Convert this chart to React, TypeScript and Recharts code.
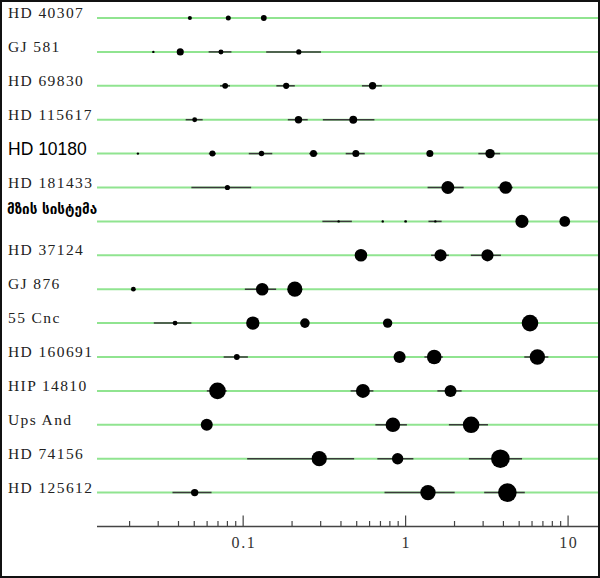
import React from 'react';
import { ScatterChart, Scatter, XAxis, YAxis, ReferenceLine } from 'recharts';

// Systems (top to bottom)
const SYSTEM_NAMES = [
  'HD 40307', 'GJ 581', 'HD 69830', 'HD 115617', 'HD 10180', 'HD 181433',
  'მზის სისტემა', 'HD 37124', 'GJ 876', '55 Cnc', 'HD 160691', 'HIP 14810',
  'Ups And', 'HD 74156', 'HD 125612',
];

// planets: a = semi-major axis (AU), e = eccentricity, m = mass (Earth masses)
const hd40307 = [
  { a: 0.047, e: 0.0, m: 3.5 },
  { a: 0.081, e: 0.0, m: 5.5 },
  { a: 0.134, e: 0.0, m: 8 },
];
const gj581 = [
  { a: 0.028, e: 0.0, m: 1.3 },
  { a: 0.041, e: 0.0, m: 15.6 },
  { a: 0.073, e: 0.16, m: 5.4 },
  { a: 0.22, e: 0.37, m: 6 },
];
const hd69830 = [
  { a: 0.0775, e: 0.07, m: 8 },
  { a: 0.184, e: 0.13, m: 10 },
  { a: 0.626, e: 0.14, m: 18 },
];
const hd115617 = [
  { a: 0.0503, e: 0.12, m: 5.1 },
  { a: 0.219, e: 0.14, m: 18.2 },
  { a: 0.476, e: 0.35, m: 22.9 },
];
const hd10180 = [
  { a: 0.0225, e: 0.0, m: 1.35 },
  { a: 0.0647, e: 0.05, m: 9 },
  { a: 0.1297, e: 0.165, m: 7 },
  { a: 0.271, e: 0.06, m: 15 },
  { a: 0.494, e: 0.134, m: 15 },
  { a: 1.41, e: 0.03, m: 15 },
  { a: 3.31, e: 0.153, m: 50 },
];
const hd181433 = [
  { a: 0.08, e: 0.4, m: 6 },
  { a: 1.82, e: 0.25, m: 300 },
  { a: 4.13, e: 0.106, m: 260 },
];
const solarSystem = [
  { a: 0.387, e: 0.206, m: 0.055 },
  { a: 0.723, e: 0.007, m: 0.815 },
  { a: 1.0, e: 0.017, m: 1 },
  { a: 1.524, e: 0.093, m: 0.107 },
  { a: 5.2, e: 0.049, m: 318 },
  { a: 9.54, e: 0.056, m: 95 },
];
const hd37124 = [
  { a: 0.531, e: 0.05, m: 240 },
  { a: 1.64, e: 0.125, m: 200 },
  { a: 3.19, e: 0.21, m: 200 },
];
const gj876 = [
  { a: 0.0211, e: 0.0, m: 5 },
  { a: 0.131, e: 0.218, m: 240 },
  { a: 0.208, e: 0.03, m: 900 },
];
const cnc55 = [
  { a: 0.0381, e: 0.26, m: 5 },
  { a: 0.1147, e: 0.01, m: 370 },
  { a: 0.24, e: 0.05, m: 54 },
  { a: 0.775, e: 0.0, m: 50 },
  { a: 5.83, e: 0.03, m: 1800 },
];
const hd160691 = [
  { a: 0.0914, e: 0.17, m: 8 },
  { a: 0.918, e: 0.07, m: 190 },
  { a: 1.5, e: 0.13, m: 670 },
  { a: 6.47, e: 0.169, m: 1000 },
];
const hip14810 = [
  { a: 0.0695, e: 0.14, m: 1820 },
  { a: 0.546, e: 0.16, m: 500 },
  { a: 1.89, e: 0.17, m: 182 },
];
const upsAnd = [
  { a: 0.0597, e: 0.03, m: 182 },
  { a: 0.835, e: 0.22, m: 670 },
  { a: 2.53, e: 0.27, m: 1820 },
];
const hd74156 = [
  { a: 0.294, e: 0.64, m: 900 },
  { a: 0.893, e: 0.25, m: 134 },
  { a: 3.83, e: 0.36, m: 5000 },
];
const hd125612 = [
  { a: 0.0503, e: 0.27, m: 18 },
  { a: 1.373, e: 0.46, m: 1000 },
  { a: 4.23, e: 0.28, m: 5000 },
];

const SYSTEMS = [
  hd40307, gj581, hd69830, hd115617, hd10180, hd181433, solarSystem,
  hd37124, gj876, cnc55, hd160691, hip14810, upsAnd, hd74156, hd125612,
];

const MAJOR_TICKS = [0.1, 1, 10];
const MAJOR_LABELS = ['0.1', '1', '10'];
const MINOR_TICKS = [
  0.02, 0.03, 0.04, 0.05, 0.06, 0.07, 0.08, 0.09,
  0.2, 0.3, 0.4, 0.5, 0.6, 0.7, 0.8, 0.9,
  2, 3, 4, 5, 6, 7, 8, 9,
];
const X_DOMAIN = [0.0126, 15.5];
const ROW_IDS = SYSTEM_NAMES.map((_, i) => i + 1);

const planets = SYSTEMS.flatMap((sys, i) =>
  sys.map((p) => ({ ...p, row: i + 1, peri: p.a * (1 - p.e), apo: p.a * (1 + p.e) }))
);

const radius = (m: number) => Math.max(1.2, 0.8 + 2.3 * Math.log10(m));

const SERIF = "'Liberation Serif', 'Times New Roman', serif";

const PlanetDot = (props: any) => {
  const { cx, cy, payload } = props;
  if (cx == null || cy == null) return null;
  return <circle cx={cx} cy={cy} r={radius(payload.m)} fill="#000" />;
};

const XTick = (props: any) => {
  const { x, y, payload } = props;
  const idx = MAJOR_TICKS.indexOf(payload.value);
  const major = idx >= 0;
  return (
    <g>
      <line x1={x} x2={x} y1={y} y2={y - (major ? 11 : 5.5)} stroke="#444" strokeWidth={1.2} />
      {major && (
        <text x={x + 0.8} y={y + 21} textAnchor="middle" fontFamily={SERIF} fontSize={16}
          letterSpacing={1.6} fill="#333">
          {MAJOR_LABELS[idx]}
        </text>
      )}
    </g>
  );
};

const YTick = (props: any) => {
  const { y, payload } = props;
  const i = payload.value - 1;
  const name = SYSTEM_NAMES[i];
  if (i === 4) {
    return (
      <text x={8} y={y + 1} fontFamily="'Liberation Sans', Arial, sans-serif" fontSize={17.5} fill="#000">
        {name}
      </text>
    );
  }
  if (i === 6) {
    return (
      <text x={7} y={y - 7} fontFamily="'DejaVu Sans', sans-serif" fontWeight="bold" fontSize={13.5} fill="#000">
        {name}
      </text>
    );
  }
  return (
    <text x={8} y={y} fontFamily={SERIF} fontSize={15.5} letterSpacing={1.4} fill="#222">
      {name}
    </text>
  );
};

export default function App() {
  return (
    <div style={{ position: 'absolute', left: 0, top: 0, width: 600, height: 578, background: '#fff' }}>
      <ScatterChart width={600} height={578} margin={{ top: 18, right: 1, bottom: 21.5, left: 0 }}>
        <XAxis
          type="number"
          dataKey="a"
          scale="log"
          domain={X_DOMAIN}
          allowDataOverflow
          ticks={[...MINOR_TICKS, ...MAJOR_TICKS].sort((p, q) => p - q)}
          interval={0}
          tick={<XTick />}
          tickLine={false}
          tickSize={0}
          tickMargin={0}
          axisLine={{ stroke: '#444', strokeWidth: 1.5 }}
          height={30}
        />
        <YAxis
          type="number"
          dataKey="row"
          domain={[1, 16]}
          reversed
          ticks={ROW_IDS}
          interval={0}
          width={97}
          axisLine={false}
          tickLine={false}
          tick={<YTick />}
        />
        {ROW_IDS.map((r) => (
          <ReferenceLine key={'g' + r} y={r} stroke="#90e490" strokeWidth={2} />
        ))}
        {planets
          .filter((p) => p.e > 0)
          .map((p, i) => (
            <ReferenceLine
              key={'e' + i}
              segment={[{ x: p.peri, y: p.row }, { x: p.apo, y: p.row }]}
              stroke="#3a3a3a"
              strokeWidth={1.5}
            />
          ))}
        <Scatter data={planets} shape={<PlanetDot />} isAnimationActive={false} />
      </ScatterChart>
      <div
        style={{
          position: 'absolute', left: 0, top: 0, width: 600, height: 578,
          boxSizing: 'border-box', border: '2px solid #111', pointerEvents: 'none',
        }}
      />
    </div>
  );
}
